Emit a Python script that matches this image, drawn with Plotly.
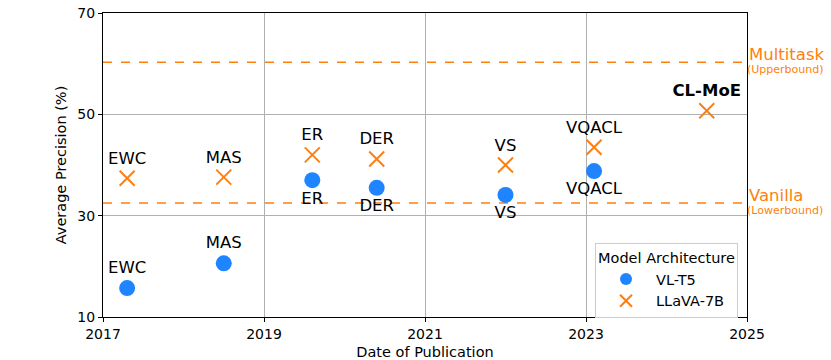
import plotly.graph_objects as go

# publication dates (decimal years) and average precision values
methods = ["EWC", "MAS", "ER", "DER", "VS", "VQACL"]
years = [2017.3, 2018.5, 2019.6, 2020.4, 2022.0, 2023.1]
vlt5_ap = [15.7, 20.6, 37.0, 35.5, 34.1, 38.8]
vlt5_textpos = ["top center", "top center", "bottom center", "bottom center", "bottom center", "bottom center"]
llava_ap = [37.4, 37.6, 42.0, 41.2, 40.0, 43.5]

ours_name = "CL-MoE"
ours_year = 2024.5
ours_ap = 50.7

multitask_ap = 60.3
vanilla_ap = 32.5

x_ticks = [2017, 2019, 2021, 2023, 2025]
y_ticks = [10, 30, 50, 70]

blue = "#1f84ff"
orange = "#ff7f0e"
font = "DejaVu Sans"

fig = go.Figure()

fig.add_trace(go.Scatter(
    x=years, y=vlt5_ap, mode="markers+text", name="VL-T5",
    text=methods, textposition=vlt5_textpos,
    textfont=dict(size=16.5, color="black", family=font),
    marker=dict(symbol="circle", size=16, color=blue),
))
fig.add_trace(go.Scatter(
    x=years + [ours_year], y=llava_ap + [ours_ap], mode="markers+text", name="LLaVA-7B",
    text=methods + ["<b>" + ours_name + "</b>"], textposition="top center",
    textfont=dict(size=16.5, color="black", family=font),
    marker=dict(symbol="x-thin", size=15, color=orange, line=dict(width=2, color=orange)),
))

for val, name, sub in [(multitask_ap, "Multitask", "(Upperbound)"), (vanilla_ap, "Vanilla", "(Lowerbound)")]:
    fig.add_hline(y=val, line=dict(color=orange, width=1.5, dash="dash"), layer="below")
    fig.add_annotation(x=1.0, xref="paper", y=val, yref="y", text=name, showarrow=False,
                       xanchor="left", yanchor="bottom", xshift=0, yshift=-4,
                       font=dict(size=16.5, color=orange, family=font))
    fig.add_annotation(x=1.0, xref="paper", y=val, yref="y", text=sub, showarrow=False,
                       xanchor="left", yanchor="top", xshift=-2, yshift=1,
                       font=dict(size=11, color=orange, family=font))

fig.update_layout(
    width=831, height=360,
    margin=dict(l=103, r=84, t=13, b=43, autoexpand=False),
    plot_bgcolor="white", paper_bgcolor="white",
    font=dict(family=font, size=14, color="black"),
    legend=dict(
        title=dict(text="Model Architecture", font=dict(size=14.5), side="top center"),
        x=0.764, y=0.243, xanchor="left", yanchor="top",
        bordercolor="#cccccc", borderwidth=1, bgcolor="rgba(255,255,255,0.8)",
        font=dict(size=14.5), itemsizing="constant", itemwidth=50,
    ),
)
fig.update_xaxes(
    range=[2017, 2025], tickvals=x_ticks, ticktext=[str(t) for t in x_ticks],
    title=dict(text="Date of Publication", font=dict(size=14.5), standoff=7),
    showgrid=True, gridcolor="#b0b0b0", gridwidth=1, automargin=False,
    showline=True, linecolor="black", linewidth=1, mirror=True,
    ticks="outside", ticklen=4, tickcolor="black", zeroline=False,
    tickfont=dict(size=14), ticklabeloverflow="allow",
)
fig.update_yaxes(
    range=[10, 70], tickvals=y_ticks,
    title=dict(text="Average Precision (%)", font=dict(size=14.5), standoff=7),
    showgrid=True, gridcolor="#b0b0b0", gridwidth=1, automargin=False,
    showline=True, linecolor="black", linewidth=1, mirror=True,
    ticks="outside", ticklen=4, tickcolor="black", zeroline=False,
    tickfont=dict(size=14), ticklabeloverflow="allow",
)

# drop the default page margin so the figure sits at the window's corner
fig.write_html("out.html", config={"displayModeBar": False},
               post_script="document.body.style.margin='0';")
